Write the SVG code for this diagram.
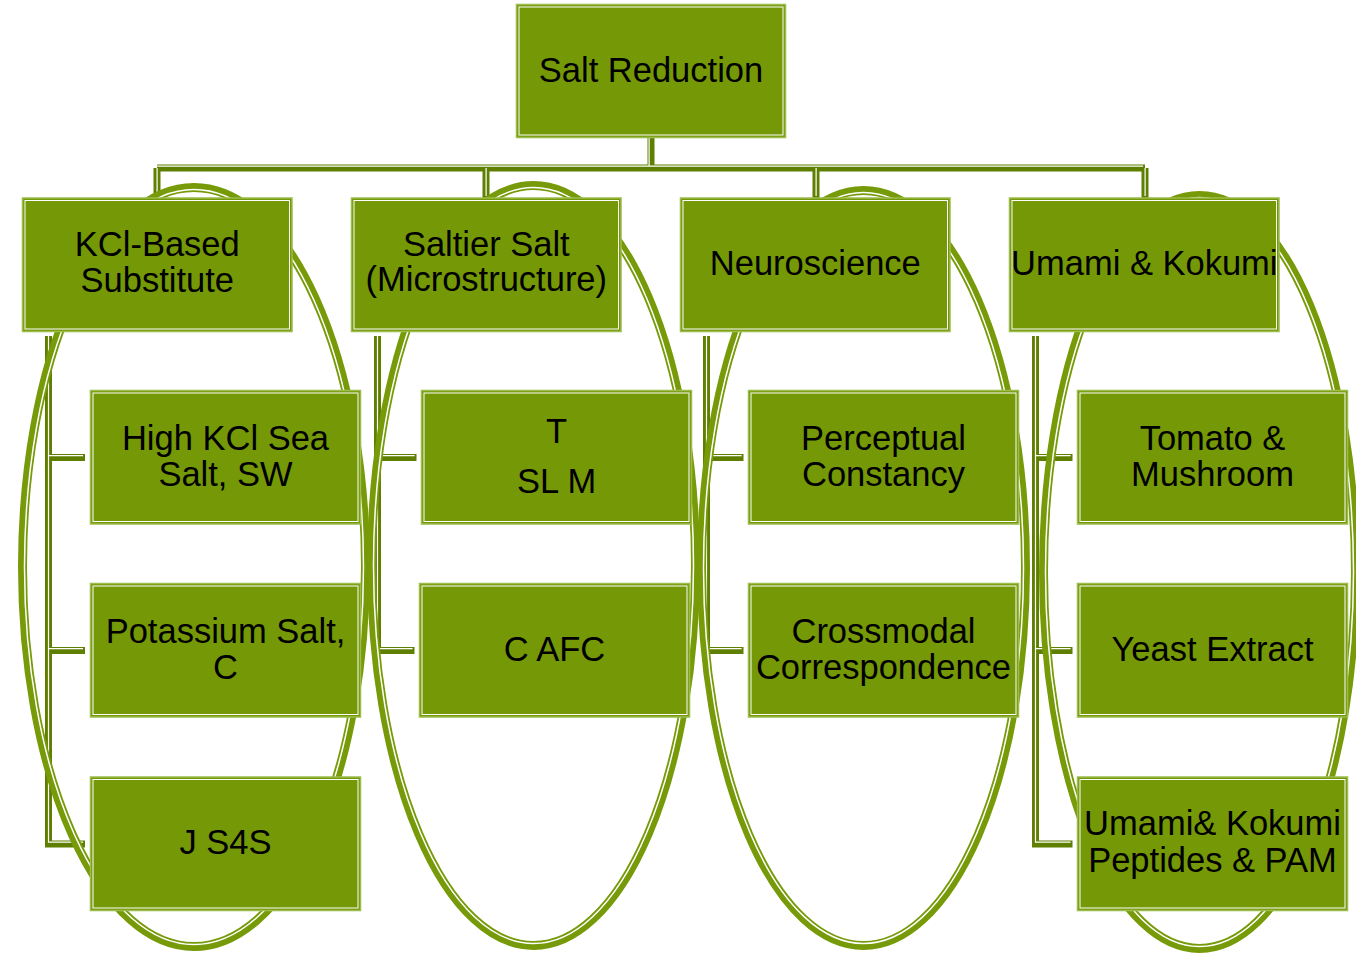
<svg xmlns="http://www.w3.org/2000/svg" width="1356" height="956" viewBox="0 0 1356 956">
<style>
.n rect.o{fill:#759806;stroke:#9cbc4c;stroke-width:1.5}
.n rect.i{fill:none;stroke:#ffffff;stroke-width:1}
.n text{font-family:"Liberation Sans",Arial,sans-serif;font-size:34.5px;fill:#000000;text-anchor:middle}
.cn{fill:none;stroke:#5f7f00;stroke-width:7;stroke-linejoin:miter}
.cw{fill:none;stroke:#ffffff;stroke-width:1.2}
.el{fill:none;stroke:#769a08;stroke-width:9}
.ew{fill:none;stroke:#ffffff;stroke-width:1.5}
</style>
<rect width="1356" height="956" fill="#ffffff"/>
<g id="connectors">
  <path class="cn" d="M651,137 V168 M157,168 H1145 M157,168 V198 M486,168 V198 M816,168 V198 M1145,168 V198"/>
  <path class="cn" d="M48.5,336 V844 H85 M48.5,457.5 H85 M48.5,650.5 H85"/>
  <path class="cn" d="M377.5,336 V650.5 H414.5 M377.5,457.5 H416.5"/>
  <path class="cn" d="M706.5,336 V650.5 H743.5 M706.5,457.5 H743.5"/>
  <path class="cn" d="M1035.5,336 V844 H1072.5 M1035.5,457.5 H1072.5 M1035.5,650.5 H1072.5"/>
  <g transform="translate(-1.9,-1.9)">
    <path class="cw" d="M651,139 V168 M159,168 H1145 M159,170 V198 M488,170 V198 M818,170 V198 M1147,170 V198"/>
    <path class="cw" d="M50.4,338 V844 H85 M50.4,457.5 H85 M50.4,650.5 H85"/>
    <path class="cw" d="M379.4,338 V650.5 H414.5 M379.4,457.5 H416.5"/>
    <path class="cw" d="M708.4,338 V650.5 H743.5 M708.4,457.5 H743.5"/>
    <path class="cw" d="M1037.4,338 V844 H1072.5 M1037.4,457.5 H1072.5 M1037.4,650.5 H1072.5"/>
  </g>
</g>
<g id="groups">
  <ellipse class="el" cx="194" cy="567" rx="171.5" ry="379.5"/>
  <ellipse class="ew" cx="194" cy="567" rx="169.5" ry="377.5"/>
  <ellipse class="el" cx="533.5" cy="565.5" rx="162" ry="380"/>
  <ellipse class="ew" cx="533.5" cy="565.5" rx="160" ry="378"/>
  <ellipse class="el" cx="863.5" cy="568" rx="162" ry="377.5"/>
  <ellipse class="ew" cx="863.5" cy="568" rx="160" ry="375.5"/>
  <ellipse class="el" cx="1199.5" cy="572" rx="156" ry="376.5"/>
  <ellipse class="ew" cx="1199.5" cy="572" rx="154" ry="374.5"/>
</g>
<g id="n-root" class="n"><rect class="o" x="516.5" y="4.5" width="269" height="133"/><rect class="i" x="519" y="7" width="264" height="128"/><text x="651" y="82">Salt Reduction</text></g>
<g id="n-kcl" class="n"><rect class="o" x="22.5" y="198" width="269.5" height="133.5"/><rect class="i" x="25" y="200.5" width="264.5" height="128.5"/><text x="157.3" y="256">KCl-Based</text><text x="157.3" y="292">Substitute</text></g>
<g id="n-saltier" class="n"><rect class="o" x="351.5" y="198" width="269.5" height="133.5"/><rect class="i" x="354" y="200.5" width="264.5" height="128.5"/><text x="486.3" y="256">Saltier Salt</text><text x="486.3" y="291">(Microstructure)</text></g>
<g id="n-neuro" class="n"><rect class="o" x="680.5" y="198" width="269.5" height="133.5"/><rect class="i" x="683" y="200.5" width="264.5" height="128.5"/><text x="815.3" y="274.5">Neuroscience</text></g>
<g id="n-umami" class="n"><rect class="o" x="1009.5" y="198" width="269.5" height="133.5"/><rect class="i" x="1012" y="200.5" width="264.5" height="128.5"/><text x="1144.3" y="274.5">Umami &amp; Kokumi</text></g>
<g id="n-highkcl" class="n"><rect class="o" x="90.5" y="390.5" width="270" height="133.5"/><rect class="i" x="93" y="393" width="265" height="128.5"/><text x="225.5" y="450">High KCl Sea</text><text x="225.5" y="486">Salt, SW</text></g>
<g id="n-potassium" class="n"><rect class="o" x="90.5" y="583.5" width="270" height="133.5"/><rect class="i" x="93" y="586" width="265" height="128.5"/><text x="225.5" y="643">Potassium Salt,</text><text x="225.5" y="679">C</text></g>
<g id="n-js4s" class="n"><rect class="o" x="90.5" y="777" width="270" height="133.5"/><rect class="i" x="93" y="779.5" width="265" height="128.5"/><text x="225.5" y="853.5">J S4S</text></g>
<g id="n-tslm" class="n"><rect class="o" x="421.5" y="390.5" width="270" height="133.5"/><rect class="i" x="424" y="393" width="265" height="128.5"/><text x="556.5" y="443">T</text><text x="556.5" y="493">SL M</text></g>
<g id="n-cafc" class="n"><rect class="o" x="419.5" y="583.5" width="270" height="133.5"/><rect class="i" x="422" y="586" width="265" height="128.5"/><text x="554.5" y="661">C AFC</text></g>
<g id="n-perceptual" class="n"><rect class="o" x="748.5" y="390.5" width="270" height="133.5"/><rect class="i" x="751" y="393" width="265" height="128.5"/><text x="883.5" y="450">Perceptual</text><text x="883.5" y="486">Constancy</text></g>
<g id="n-crossmodal" class="n"><rect class="o" x="748.5" y="583.5" width="270" height="133.5"/><rect class="i" x="751" y="586" width="265" height="128.5"/><text x="883.5" y="643">Crossmodal</text><text x="883.5" y="679">Correspondence</text></g>
<g id="n-tomato" class="n"><rect class="o" x="1077.5" y="390.5" width="270" height="133.5"/><rect class="i" x="1080" y="393" width="265" height="128.5"/><text x="1212.5" y="450">Tomato &amp;</text><text x="1212.5" y="486">Mushroom</text></g>
<g id="n-yeast" class="n"><rect class="o" x="1077.5" y="583.5" width="270" height="133.5"/><rect class="i" x="1080" y="586" width="265" height="128.5"/><text x="1212.5" y="661">Yeast Extract</text></g>
<g id="n-peptides" class="n"><rect class="o" x="1077.5" y="777" width="270" height="133.5"/><rect class="i" x="1080" y="779.5" width="265" height="128.5"/><text x="1212.5" y="835">Umami&amp; Kokumi</text><text x="1212.5" y="871.5">Peptides &amp; PAM</text></g>
</svg>
